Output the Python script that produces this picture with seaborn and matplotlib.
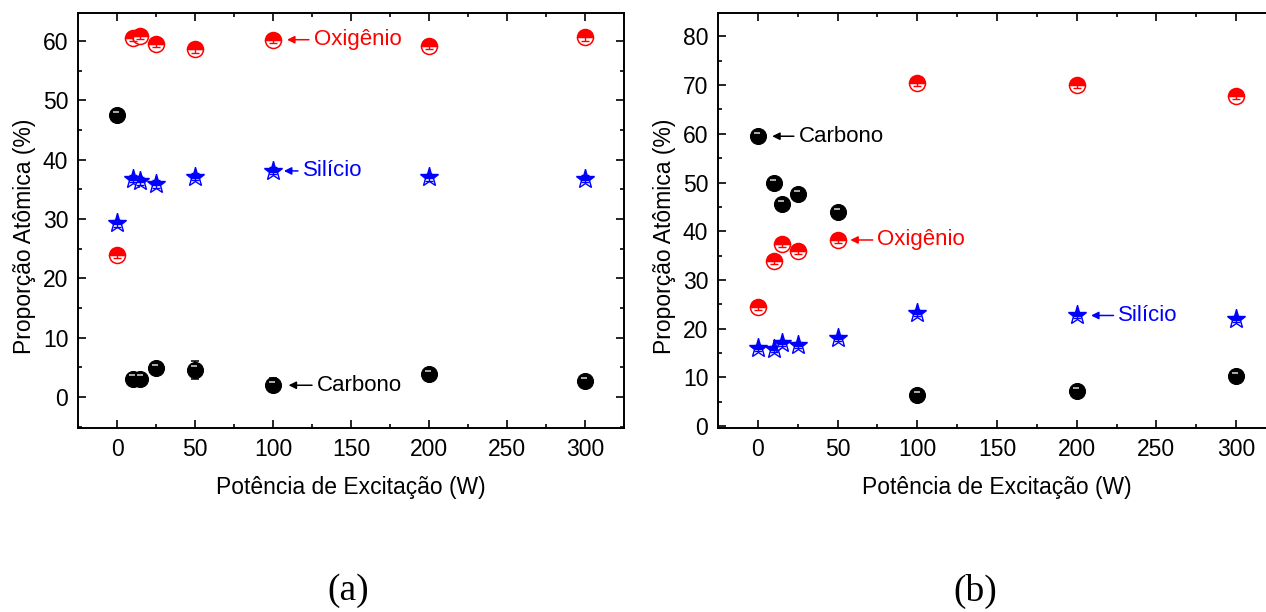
import numpy as np
import pandas as pd
import matplotlib
matplotlib.use("Agg")
import matplotlib.pyplot as plt
import matplotlib.transforms as mtransforms
from matplotlib.ticker import MultipleLocator
import seaborn as sns

# ---------------- data ----------------
power = [0, 10, 15, 25, 50, 100, 200, 300]

# panel (a)
carbon_a = [47.5, 3.1, 3.1, 4.9, 4.6, 2.0, 3.9, 2.7]
carbon_a_err = [1.1, 0.5, 0.5, 0.5, 1.5, 1.2, 0.5, 0.5]
oxygen_a = [24.0, 60.5, 60.9, 59.5, 58.6, 60.2, 59.2, 60.6]
oxygen_a_err = [0.6, 0.6, 0.6, 0.6, 0.6, 0.6, 0.6, 0.6]
silicon_a = [29.3, 36.8, 36.4, 35.9, 37.1, 38.1, 37.0, 36.8]
silicon_a_err = [0.6, 0.6, 0.6, 0.6, 0.6, 0.6, 0.6, 0.6]

# panel (b)
carbon_b = [59.5, 49.9, 45.5, 47.6, 43.9, 6.4, 7.2, 10.2]
carbon_b_err = [0.5, 0.5, 0.5, 0.5, 0.5, 0.5, 0.5, 0.5]
oxygen_b = [24.4, 33.9, 37.4, 35.9, 38.2, 70.4, 70.1, 67.8]
oxygen_b_err = [0.6, 0.6, 0.6, 0.6, 0.6, 0.6, 0.6, 0.6]
silicon_b = [16.1, 15.9, 17.1, 16.6, 18.0, 23.2, 22.7, 21.9]
silicon_b_err = [0.6, 0.6, 0.6, 0.6, 0.6, 0.6, 0.6, 0.6]

labels = ["Carbono", "Oxigênio", "Silício"]
xlabel = "Potência de Excitação (W)"
ylabel = "Proporção Atômica (%)"
panel_tags = ["(a)", "(b)"]

# ---------------- style ----------------
sns.set_style("ticks")
plt.rcParams["font.family"] = ["Liberation Sans", "DejaVu Sans"]
plt.rcParams["text.color"] = "black"
plt.rcParams["axes.labelcolor"] = "black"

RED = "#ff0000"
BLUE = "#0000ff"
BLACK = "#000000"

fig = plt.figure(figsize=(12.66, 6.12), dpi=100)
ax_a = fig.add_axes([78 / 1266, 1 - 428 / 612, 546 / 1266, 415 / 612])
ax_b = fig.add_axes([718 / 1266, 1 - 428 / 612, 558 / 1266, 415 / 612])


def draw_panel(ax, c, ce, o, oe, s, se):
    df = pd.DataFrame({"x": power, "C": c, "O": o, "Si": s})
    # carbon: dark spheres
    sns.lineplot(data=df, x="x", y="C", ax=ax, linestyle="", marker="o",
                 markersize=11.5, color=BLACK, markeredgecolor=BLACK,
                 markeredgewidth=0.8, errorbar=None, legend=False, zorder=3)
    hl = mtransforms.offset_copy(ax.transData, fig=fig, x=-0.5, y=2.4, units="points")
    ax.plot(df["x"], df["C"], linestyle="", marker="_", markersize=4,
            color="#bbbbbb", markeredgewidth=1.3, transform=hl, zorder=4)
    ax.errorbar(power, c, yerr=ce, fmt="none", ecolor=BLACK, elinewidth=1.1,
                capsize=3, capthick=1.1, zorder=2)
    # oxygen: half-filled circles
    sns.lineplot(data=df, x="x", y="O", ax=ax, linestyle="", marker="o",
                 markersize=11.5, color=RED, markeredgecolor=RED,
                 markerfacecoloralt="white", fillstyle="top",
                 markeredgewidth=1.1, errorbar=None, legend=False, zorder=3)
    ax.errorbar(power, o, yerr=oe, fmt="none", ecolor=RED, elinewidth=1.0,
                capsize=3, capthick=1.0, zorder=4)
    # silicon: half-filled stars
    sns.lineplot(data=df, x="x", y="Si", ax=ax, linestyle="", marker="*",
                 markersize=14, color=BLUE, markeredgecolor=BLUE,
                 markerfacecoloralt="white", fillstyle="top",
                 markeredgewidth=1.0, errorbar=None, legend=False, zorder=3)
    ax.errorbar(power, s, yerr=se, fmt="none", ecolor=BLUE, elinewidth=1.0,
                capsize=3, capthick=1.0, zorder=4)

    ax.set_xlim(-25, 325)
    ax.xaxis.set_major_locator(MultipleLocator(50))
    ax.xaxis.set_minor_locator(MultipleLocator(25))
    ax.yaxis.set_major_locator(MultipleLocator(10))
    ax.yaxis.set_minor_locator(MultipleLocator(5))
    ax.tick_params(which="both", direction="in", top=True, right=True,
                   labelsize=16.5, width=1.2, colors="black", pad=7)
    ax.tick_params(which="major", length=6)
    ax.tick_params(which="minor", length=3)
    for sp in ax.spines.values():
        sp.set_linewidth(1.4)
        sp.set_color("black")
    ax.set_xlabel(xlabel, fontsize=16.5, labelpad=11, color="black")
    ax.set_ylabel(ylabel, fontsize=16.5, labelpad=5, color="black")
    ax.yaxis.label.set_y(0.463)


def note(ax, text, color, xm, ym, xtip, xtext):
    ax.annotate(text, xy=(xtip, ym), xytext=(xtext, ym), color=color,
                fontsize=16, va="center", ha="left",
                arrowprops=dict(arrowstyle="-|>", color=color, lw=1.1,
                                mutation_scale=11, shrinkA=1, shrinkB=0))


draw_panel(ax_a, carbon_a, carbon_a_err, oxygen_a, oxygen_a_err,
           silicon_a, silicon_a_err)
ax_a.set_ylim(-5.2, 64.7)
note(ax_a, labels[1], RED, 100, oxygen_a[5], 109, 126)
note(ax_a, labels[2], BLUE, 100, silicon_a[5], 107, 119)
note(ax_a, labels[0], BLACK, 100, carbon_a[5], 110, 128)

draw_panel(ax_b, carbon_b, carbon_b_err, oxygen_b, oxygen_b_err,
           silicon_b, silicon_b_err)
ax_b.set_ylim(-0.4, 84.8)
note(ax_b, labels[0], BLACK, 0, carbon_b[0], 9, 25.5)
note(ax_b, labels[1], RED, 50, oxygen_b[4], 58, 75)
note(ax_b, labels[2], BLUE, 200, silicon_b[6], 209, 226)

fig.text(348 / 1266, 1 - 591 / 612, panel_tags[0], ha="center", va="center",
         fontsize=27, family=["Liberation Serif", "DejaVu Serif"])
fig.text(975 / 1266, 1 - 591 / 612, panel_tags[1], ha="center", va="center",
         fontsize=27, family=["Liberation Serif", "DejaVu Serif"])

fig.savefig("out.png", dpi=100, facecolor="white")
